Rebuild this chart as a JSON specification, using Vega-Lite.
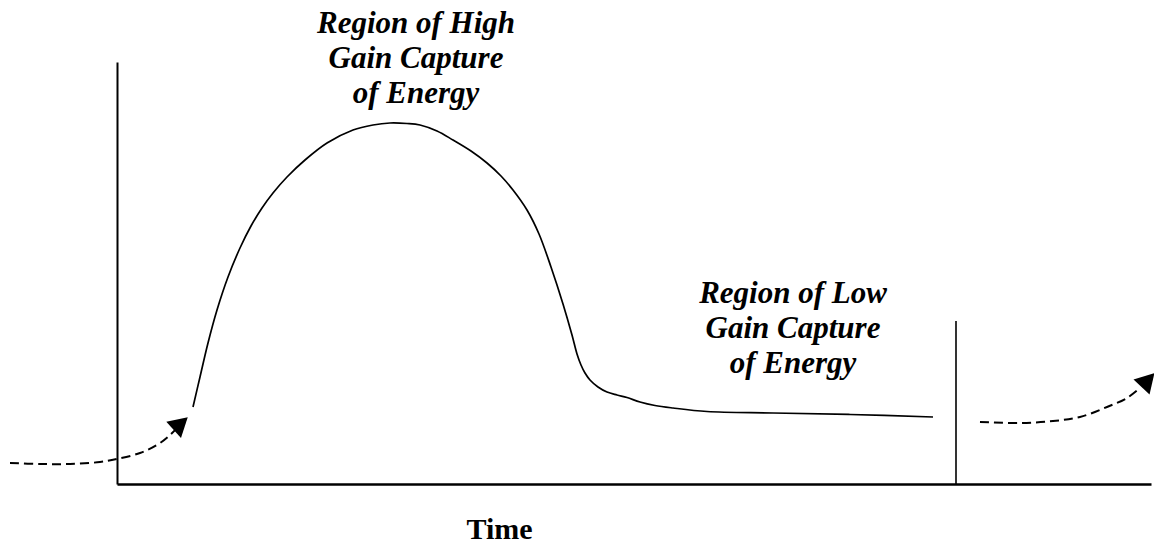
{
  "$schema": "https://vega.github.io/schema/vega-lite/v6.json",
  "width": 1034,
  "height": 422,
  "autosize": {"type": "none"},
  "padding": {"left": 117, "top": 62, "right": 3, "bottom": 60},
  "background": "white",
  "config": {"view": {"stroke": null}},
  "datasets": {
    "curve": [
      {"t": 76, "e": 77}, {"t": 83, "e": 107}, {"t": 91, "e": 141}, {"t": 100, "e": 174},
      {"t": 111, "e": 207}, {"t": 123, "e": 236}, {"t": 134, "e": 258}, {"t": 145, "e": 276},
      {"t": 156, "e": 291}, {"t": 170, "e": 307}, {"t": 188, "e": 324}, {"t": 210, "e": 341},
      {"t": 236, "e": 354}, {"t": 256, "e": 359}, {"t": 273, "e": 361}, {"t": 290, "e": 360.5},
      {"t": 303, "e": 359}, {"t": 320, "e": 353}, {"t": 336, "e": 344}, {"t": 354, "e": 333},
      {"t": 370, "e": 321}, {"t": 384, "e": 308}, {"t": 396, "e": 294}, {"t": 410, "e": 274},
      {"t": 422, "e": 250}, {"t": 434, "e": 217}, {"t": 446, "e": 180}, {"t": 455, "e": 149},
      {"t": 460, "e": 130}, {"t": 464, "e": 119}, {"t": 468, "e": 111}, {"t": 473, "e": 104},
      {"t": 481, "e": 97}, {"t": 490, "e": 92}, {"t": 500, "e": 89}, {"t": 510, "e": 86.5},
      {"t": 523, "e": 82}, {"t": 538, "e": 78.5}, {"t": 556, "e": 76}, {"t": 590, "e": 72.5},
      {"t": 656, "e": 71}, {"t": 733, "e": 69.5}, {"t": 816, "e": 67}
    ],
    "dashed": [
      {"seg": "in", "t": -107, "e": 21}, {"seg": "in", "t": -77, "e": 20}, {"seg": "in", "t": -47, "e": 20},
      {"seg": "in", "t": -17, "e": 22}, {"seg": "in", "t": 0, "e": 25}, {"seg": "in", "t": 23, "e": 31},
      {"seg": "in", "t": 40, "e": 39}, {"seg": "in", "t": 53, "e": 49}, {"seg": "in", "t": 63, "e": 59},
      {"seg": "out", "t": 863, "e": 62}, {"seg": "out", "t": 903, "e": 61}, {"seg": "out", "t": 936, "e": 63},
      {"seg": "out", "t": 963, "e": 67}, {"seg": "out", "t": 990, "e": 77}, {"seg": "out", "t": 1010, "e": 86},
      {"seg": "out", "t": 1023, "e": 96}
    ],
    "arrows": [
      {"seg": "in", "t": 63.7, "e": 60.5},
      {"seg": "out", "t": 1031, "e": 104}
    ],
    "divider": [{"t": 839, "e": 0, "e2": 163}],
    "labels": [
      {"t": 299, "e": 451, "label": "Region of High\nGain Capture\nof Energy"},
      {"t": 676, "e": 181, "label": "Region of Low\nGain Capture\nof Energy"}
    ]
  },
  "layer": [
    {
      "data": {"name": "curve"},
      "mark": {"type": "line", "color": "black", "strokeWidth": 1.7, "interpolate": "catmull-rom"},
      "encoding": {
        "x": {
          "field": "t", "type": "quantitative",
          "scale": {"domain": [0, 1034], "nice": false, "zero": false},
          "axis": {
            "domain": true, "domainColor": "black", "domainWidth": 2.5,
            "ticks": false, "labels": false, "grid": false,
            "title": "Time", "titleFont": "Liberation Serif", "titleFontWeight": "bold",
            "titleFontSize": 30, "titleColor": "black", "titleAlign": "center",
            "titleBaseline": "alphabetic", "titleX": 382, "titleY": 54
          }
        },
        "y": {
          "field": "e", "type": "quantitative",
          "scale": {"domain": [0, 422], "nice": false, "zero": false},
          "axis": {
            "domain": true, "domainColor": "black", "domainWidth": 2,
            "ticks": false, "labels": false, "grid": false, "title": null
          }
        }
      }
    },
    {
      "data": {"name": "dashed"},
      "mark": {"type": "line", "color": "black", "strokeWidth": 2, "strokeDash": [9, 5], "interpolate": "catmull-rom"},
      "encoding": {
        "x": {"field": "t", "type": "quantitative"},
        "y": {"field": "e", "type": "quantitative"},
        "detail": {"field": "seg"}
      }
    },
    {
      "data": {"name": "arrows"},
      "mark": {"type": "point", "shape": "triangle-up", "filled": true, "color": "black", "opacity": 1, "size": 480},
      "encoding": {
        "x": {"field": "t", "type": "quantitative"},
        "y": {"field": "e", "type": "quantitative"},
        "angle": {"field": "seg", "type": "nominal", "scale": {"domain": ["in", "out"], "range": [48, 43]}, "legend": null}
      }
    },
    {
      "data": {"name": "divider"},
      "mark": {"type": "rule", "color": "black", "strokeWidth": 1.6},
      "encoding": {
        "x": {"field": "t", "type": "quantitative"},
        "y": {"field": "e", "type": "quantitative"},
        "y2": {"field": "e2"}
      }
    },
    {
      "data": {"name": "labels"},
      "mark": {
        "type": "text", "font": "Liberation Serif", "fontWeight": "bold", "fontStyle": "italic",
        "fontSize": 31, "lineHeight": 35, "align": "center", "baseline": "alphabetic",
        "color": "black", "lineBreak": "\n"
      },
      "encoding": {
        "x": {"field": "t", "type": "quantitative"},
        "y": {"field": "e", "type": "quantitative"},
        "text": {"field": "label"}
      }
    }
  ]
}
